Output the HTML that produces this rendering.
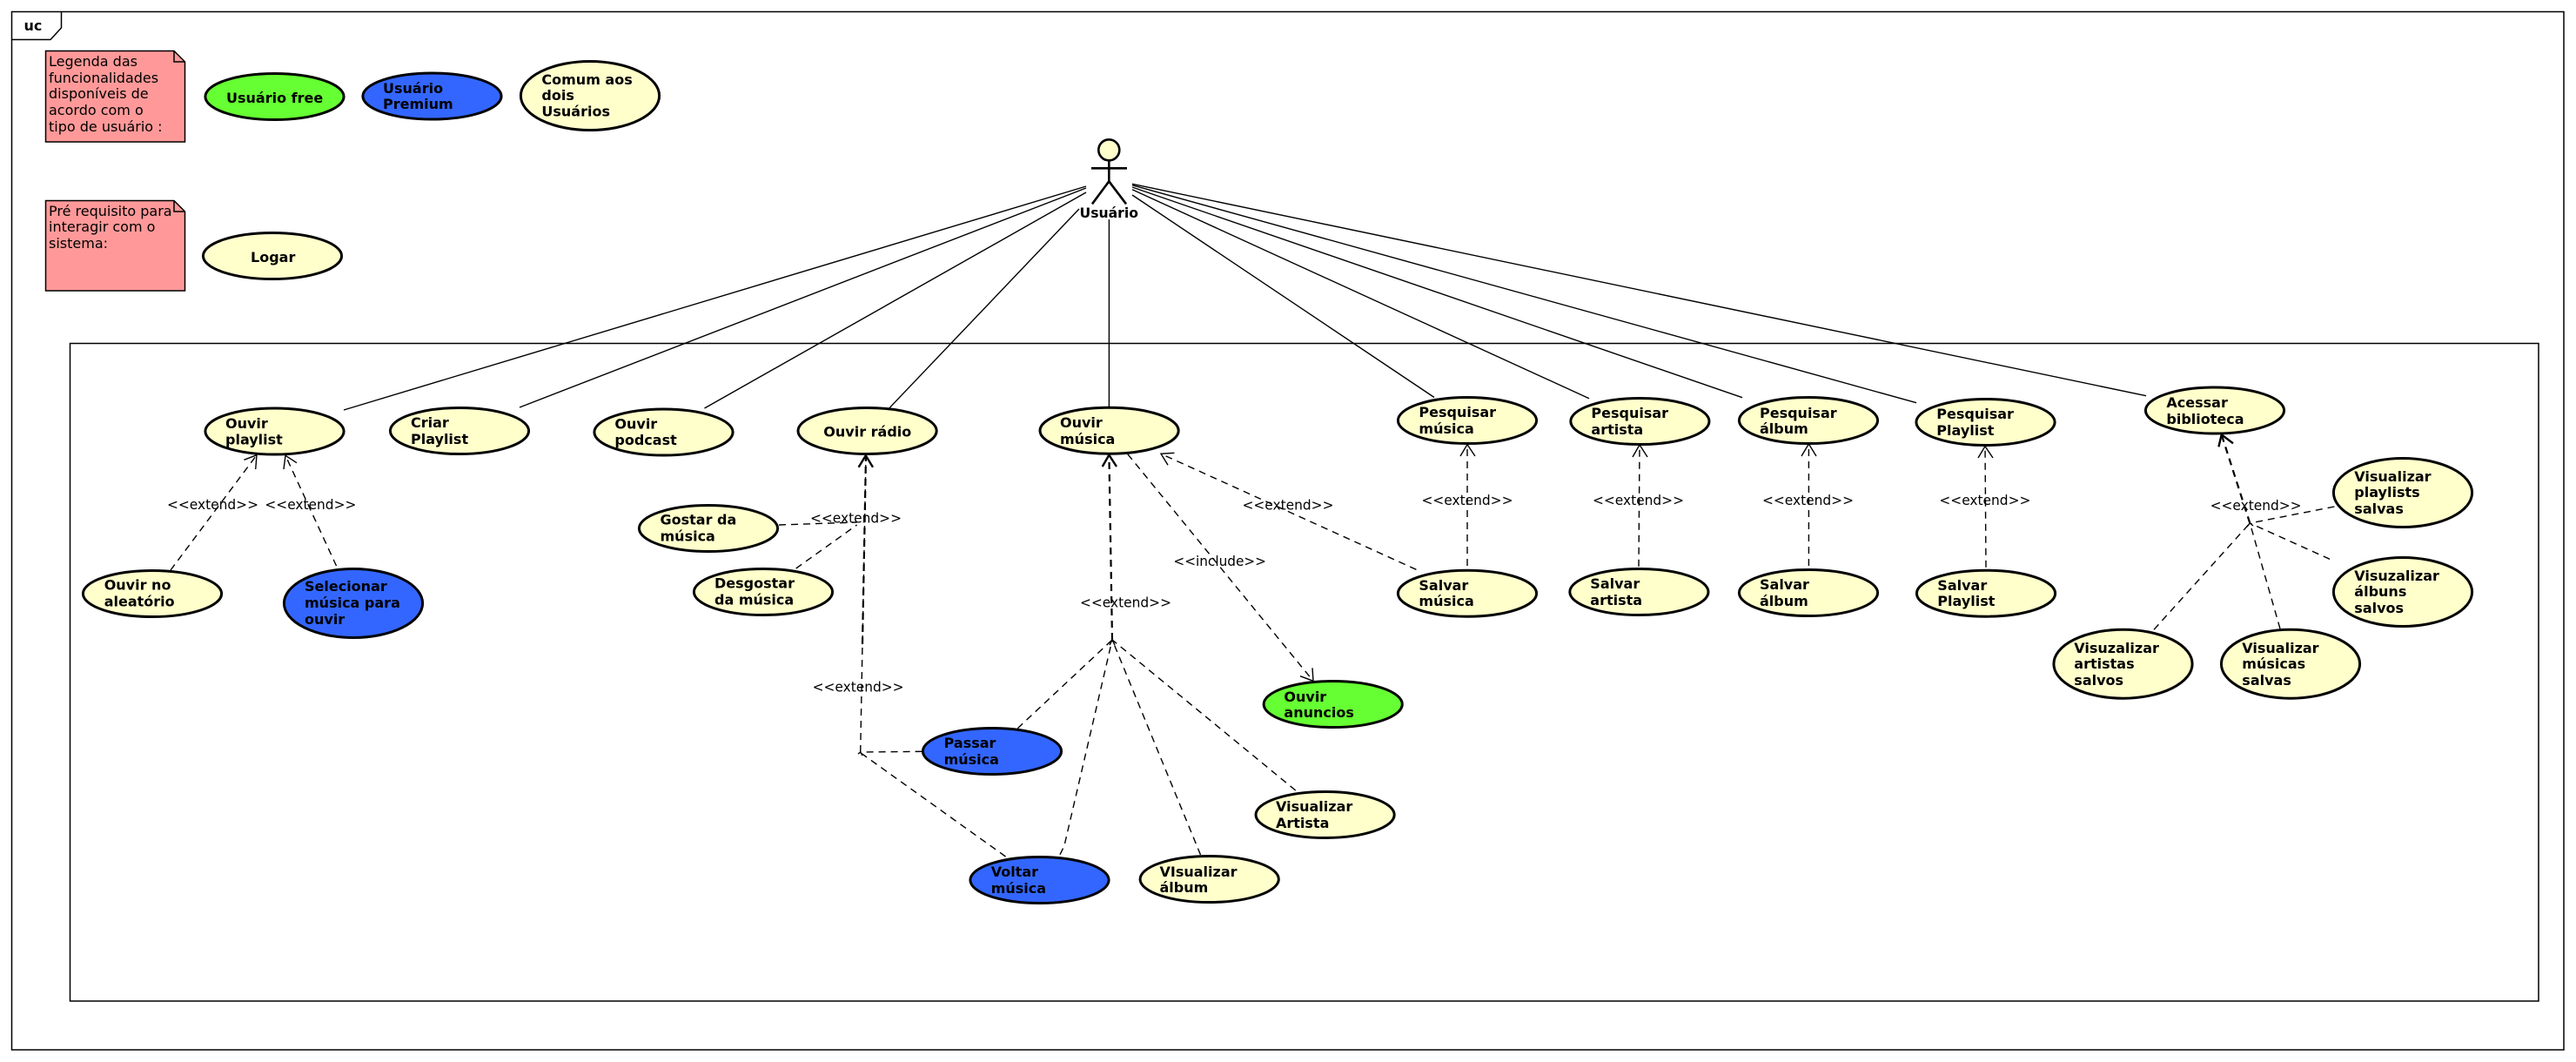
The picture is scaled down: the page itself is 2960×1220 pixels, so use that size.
<!DOCTYPE html>
<html><head><meta charset="utf-8"><style>
html,body{margin:0;padding:0;background:#fff;width:2960px;height:1220px;overflow:hidden}
svg{display:block}
text{font-family:"DejaVu Sans","Liberation Sans",sans-serif;font-size:16px;fill:#000}
.b text,text.b{font-weight:bold}
.e ellipse{stroke:#000;stroke-width:3}
.y{fill:#FFFFCC}.g{fill:#66FF33}.u{fill:#3366FF}
.s line,.s polyline{stroke:#000;stroke-width:1.4;fill:none}
.d line,.d path{stroke:#000;stroke-width:1.4;fill:none;stroke-dasharray:8 6}
.h line,.h path{stroke:#000;stroke-width:2.2;fill:none;stroke-dasharray:8 6}
.a polyline{stroke:#000;stroke-width:1.4;fill:none}
.t polyline{stroke:#000;stroke-width:2.4;fill:none}
</style></head><body>
<svg width="2960" height="1220" viewBox="0 0 2960 1220" xmlns="http://www.w3.org/2000/svg">
<rect width="2960" height="1220" fill="#fff"/>
<rect x="13.5" y="13.5" width="2932.5" height="1192.5" fill="none" stroke="#000" stroke-width="1.5"/>
<polyline points="13.5,45.5 58,45.5 70.5,32 70.5,13.5" fill="none" stroke="#000" stroke-width="1.5"/>
<text class="b" x="27.5" y="35">uc</text>
<rect x="80.5" y="394.5" width="2836.5" height="755.5" fill="none" stroke="#000" stroke-width="1.5"/>

<path d="M52.5,58.5H200L212.5,71V163H52.5Z" fill="#FF9999" stroke="#000" stroke-width="1.5"/>
<polyline points="200,58.5 200,71 212.5,71" fill="none" stroke="#000" stroke-width="1.5"/>
<path d="M52.5,230.5H200L212.5,243V334H52.5Z" fill="#FF9999" stroke="#000" stroke-width="1.5"/>
<polyline points="200,230.5 200,243 212.5,243" fill="none" stroke="#000" stroke-width="1.5"/>
<text x="56" y="76">Legenda das</text><text x="56" y="95">funcionalidades</text><text x="56" y="113">disponíveis de</text><text x="56" y="132">acordo com o</text><text x="56" y="151">tipo de usuário :</text>
<text x="56" y="248">Pré requisito para</text><text x="56" y="266">interagir com o</text><text x="56" y="285">sistema:</text>

<g class="s">
<line x1="1248" y1="214" x2="395" y2="471"/>
<line x1="1248" y1="216" x2="597" y2="468"/>
<line x1="1248" y1="221" x2="809.5" y2="469"/>
<line x1="1240" y1="240" x2="1022" y2="468.7"/>
<line x1="1274.4" y1="252" x2="1274.4" y2="467"/>
<line x1="1301" y1="224" x2="1648" y2="456.5"/>
<line x1="1301" y1="217.7" x2="1826" y2="457.7"/>
<line x1="1301" y1="215" x2="2002" y2="456.7"/>
<line x1="1301" y1="212.7" x2="2202" y2="462.7"/>
<line x1="1301" y1="211.3" x2="2466" y2="454.7"/>
</g>

<g class="d">
<line x1="196" y1="655" x2="295" y2="522.7"/>
<line x1="386.5" y1="650" x2="328" y2="523.3"/>
<line x1="895" y1="603" x2="984.6" y2="600"/>
<line x1="914.7" y1="653" x2="984.6" y2="603"/>
<line x1="1059.6" y1="863.3" x2="988.7" y2="864"/>
<line x1="1155.5" y1="984" x2="988.7" y2="864.7"/>
<line x1="988.7" y1="864" x2="995" y2="523.3"/>
<line x1="1169.3" y1="836.7" x2="1278" y2="735"/>
<path d="M1218,981.7L1222.9,971.7L1278,735"/>
<line x1="1379.5" y1="982" x2="1278" y2="735"/>
<line x1="1488.7" y1="908" x2="1278" y2="735"/>
<line x1="1295.8" y1="521.7" x2="1509" y2="782.3"/>
<line x1="1627.4" y1="654.3" x2="1334" y2="521.3"/>
<line x1="1686" y1="650" x2="1686" y2="510.7"/>
<line x1="1883" y1="650.7" x2="1884" y2="511"/>
<line x1="2078.4" y1="650" x2="2078.4" y2="510"/>
<line x1="2282" y1="651.7" x2="2281" y2="512.7"/>
<line x1="2682.4" y1="582" x2="2585.3" y2="601"/>
<line x1="2677" y1="642.3" x2="2585.3" y2="601"/>
<line x1="2475" y1="723.3" x2="2585.3" y2="601"/>
<line x1="2620" y1="722.3" x2="2585.3" y2="601"/>
</g>
<g class="h">
<line x1="991" y1="740" x2="995" y2="523.3"/>
<line x1="1278" y1="735" x2="1274.4" y2="522.7"/>
<line x1="2585.3" y1="601" x2="2552.7" y2="499.3"/>
</g>
<g class="a">
<polyline points="280.4,528.3 295,522.7 293.7,539"/>
<polyline points="326,539 328,523.3 341,531.7"/>
<polyline points="1349.4,520.3 1334,521.3 1342,534.3"/>
<polyline points="1508,767.3 1509,782.3 1494,776.7"/>
<polyline points="1678,524 1686,510.7 1695,524"/>
<polyline points="1876,525 1884,511 1893,525"/>
<polyline points="2070,524 2078.4,510 2087,524"/>
<polyline points="2273,526 2281,512.7 2290,526"/>
<polyline points="1275,741 1278,735 1281,741"/>
<polyline points="986,866 988.7,864 991,868"/>
<polyline points="2582,605 2585.3,601 2589,604"/>
</g>
<g class="t">
<polyline points="986.6,536.7 994.8,523.3 1003,536.7"/>
<polyline points="1266.7,536 1274.4,522.7 1283,536"/>
<polyline points="2549.4,513.3 2552.7,499.3 2566,509.3"/>
</g>

<g class="e">
<ellipse class="g" cx="315.5" cy="111" rx="79.6" ry="26.5"/>
<ellipse class="u" cx="496.5" cy="110.5" rx="79.6" ry="26.5"/>
<ellipse class="y" cx="678" cy="110" rx="79.6" ry="39.5"/>
<ellipse class="y" cx="313" cy="294" rx="79.6" ry="26.5"/>
<ellipse class="y" cx="315.5" cy="495.5" rx="79.6" ry="26.5"/>
<ellipse class="y" cx="528" cy="495" rx="79.6" ry="26.5"/>
<ellipse class="y" cx="762.5" cy="496.5" rx="79.6" ry="26.5"/>
<ellipse class="y" cx="175" cy="682" rx="79.6" ry="26.5"/>
<ellipse class="u" cx="406" cy="693" rx="79.6" ry="39.5"/>
<ellipse class="y" cx="814" cy="607" rx="79.6" ry="26.5"/>
<ellipse class="y" cx="877" cy="680" rx="79.6" ry="26.5"/>
<ellipse class="y" cx="996.6" cy="495" rx="79.6" ry="26.5"/>
<ellipse class="y" cx="1274.6" cy="494.7" rx="79.6" ry="26.5"/>
<ellipse class="g" cx="1531.7" cy="809" rx="79.6" ry="26.5"/>
<ellipse class="u" cx="1140" cy="863" rx="79.6" ry="26.5"/>
<ellipse class="u" cx="1194.5" cy="1011" rx="79.6" ry="26.5"/>
<ellipse class="y" cx="1389.7" cy="1010" rx="79.6" ry="26.5"/>
<ellipse class="y" cx="1522.6" cy="936" rx="79.6" ry="26.5"/>
<ellipse class="y" cx="1686" cy="483" rx="79.6" ry="26.5"/>
<ellipse class="y" cx="1884.4" cy="484" rx="79.6" ry="26.5"/>
<ellipse class="y" cx="2078" cy="483" rx="79.6" ry="26.5"/>
<ellipse class="y" cx="2281.5" cy="485" rx="79.6" ry="26.5"/>
<ellipse class="y" cx="1686" cy="681.7" rx="79.6" ry="26.5"/>
<ellipse class="y" cx="1883.4" cy="680" rx="79.6" ry="26.5"/>
<ellipse class="y" cx="2078" cy="681" rx="79.6" ry="26.5"/>
<ellipse class="y" cx="2282" cy="681.7" rx="79.6" ry="26.5"/>
<ellipse class="y" cx="2545" cy="471.5" rx="79.6" ry="26.5"/>
<ellipse class="y" cx="2761" cy="566" rx="79.6" ry="39.5"/>
<ellipse class="y" cx="2761" cy="680" rx="79.6" ry="39.5"/>
<ellipse class="y" cx="2439.5" cy="762.7" rx="79.6" ry="39.5"/>
<ellipse class="y" cx="2632" cy="762.7" rx="79.6" ry="39.5"/>
</g>

<g fill="none" stroke="#000" stroke-width="2.6">
<circle cx="1274.3" cy="172.3" r="12" fill="#FFFFCC"/>
<line x1="1274.3" y1="185" x2="1274.3" y2="208.3"/>
<line x1="1254" y1="193.3" x2="1295" y2="193.3"/>
<polyline points="1255,234.3 1274.3,208.3 1294,234.3"/>
</g>

<g class="b">
<text x="1240.5" y="250" textLength="67.5" lengthAdjust="spacingAndGlyphs">Usuário</text>
<text x="260" y="118">Usuário free</text>
<text x="440" y="107">Usuário</text><text x="440" y="125">Premium</text>
<text x="622.4" y="97">Comum aos</text><text x="622.4" y="115">dois</text><text x="622.4" y="133.3">Usuários</text>
<text x="288" y="301">Logar</text>
<text x="259" y="492">Ouvir</text><text x="259" y="510.5">playlist</text>
<text x="472" y="491">Criar</text><text x="472" y="510">Playlist</text>
<text x="706.4" y="492.7">Ouvir</text><text x="706.4" y="511">podcast</text>
<text x="119.7" y="677.7">Ouvir no</text><text x="119.7" y="696.7">aleatório</text>
<text x="350" y="679">Selecionar</text><text x="350" y="698">música para</text><text x="350" y="717">ouvir</text>
<text x="758.5" y="602.7">Gostar da</text><text x="758.5" y="621.7">música</text>
<text x="821" y="675.7">Desgostar</text><text x="821" y="694.7">da música</text>
<text x="946.3" y="501.7">Ouvir rádio</text>
<text x="1218" y="491">Ouvir</text><text x="1218" y="510">música</text>
<text x="1475.4" y="806">Ouvir</text><text x="1475.4" y="824">anuncios</text>
<text x="1084.6" y="859">Passar</text><text x="1084.6" y="878">música</text>
<text x="1138.7" y="1007">Voltar</text><text x="1138.7" y="1026">música</text>
<text x="1332.5" y="1007">VIsualizar</text><text x="1332.5" y="1025">álbum</text>
<text x="1466" y="932">Visualizar</text><text x="1466" y="951">Artista</text>
<text x="1630.4" y="479">Pesquisar</text><text x="1630.4" y="498">música</text>
<text x="1828.4" y="480">Pesquisar</text><text x="1828.4" y="499">artista</text>
<text x="2022" y="480">Pesquisar</text><text x="2022" y="498">álbum</text>
<text x="2225.3" y="481">Pesquisar</text><text x="2225.3" y="500">Playlist</text>
<text x="1630.4" y="678">Salvar</text><text x="1630.4" y="696">música</text>
<text x="1827.3" y="676">Salvar</text><text x="1827.3" y="695">artista</text>
<text x="2022" y="677">Salvar</text><text x="2022" y="696">álbum</text>
<text x="2226.3" y="678">Salvar</text><text x="2226.3" y="696">Playlist</text>
<text x="2489.4" y="468">Acessar</text><text x="2489.4" y="487">biblioteca</text>
<text x="2705.3" y="553">Visualizar</text><text x="2705.3" y="571">playlists</text><text x="2705.3" y="590">salvas</text>
<text x="2705.3" y="667">Visuzalizar</text><text x="2705.3" y="685">álbuns</text><text x="2705.3" y="704">salvos</text>
<text x="2383.3" y="750">Visuzalizar</text><text x="2383.3" y="768">artistas</text><text x="2383.3" y="787">salvos</text>
<text x="2576.3" y="750">Visualizar</text><text x="2576.3" y="768">músicas</text><text x="2576.3" y="787">salvas</text>
</g>

<g>
<text x="192" y="585" textLength="105" lengthAdjust="spacingAndGlyphs">&lt;&lt;extend&gt;&gt;</text>
<text x="304.4" y="585" textLength="105" lengthAdjust="spacingAndGlyphs">&lt;&lt;extend&gt;&gt;</text>
<text x="931" y="600.7" textLength="105" lengthAdjust="spacingAndGlyphs">&lt;&lt;extend&gt;&gt;</text>
<text x="933.6" y="794.7" textLength="105" lengthAdjust="spacingAndGlyphs">&lt;&lt;extend&gt;&gt;</text>
<text x="1241" y="697.7" textLength="105" lengthAdjust="spacingAndGlyphs">&lt;&lt;extend&gt;&gt;</text>
<text x="1348.4" y="650" textLength="106.6" lengthAdjust="spacingAndGlyphs">&lt;&lt;include&gt;&gt;</text>
<text x="1427.5" y="585.7" textLength="105" lengthAdjust="spacingAndGlyphs">&lt;&lt;extend&gt;&gt;</text>
<text x="1633.5" y="580" textLength="105" lengthAdjust="spacingAndGlyphs">&lt;&lt;extend&gt;&gt;</text>
<text x="1830" y="580" textLength="105" lengthAdjust="spacingAndGlyphs">&lt;&lt;extend&gt;&gt;</text>
<text x="2025" y="580" textLength="105" lengthAdjust="spacingAndGlyphs">&lt;&lt;extend&gt;&gt;</text>
<text x="2228.4" y="580" textLength="105" lengthAdjust="spacingAndGlyphs">&lt;&lt;extend&gt;&gt;</text>
<text x="2539.6" y="586" textLength="105" lengthAdjust="spacingAndGlyphs">&lt;&lt;extend&gt;&gt;</text>
</g>
</svg>
</body></html>
